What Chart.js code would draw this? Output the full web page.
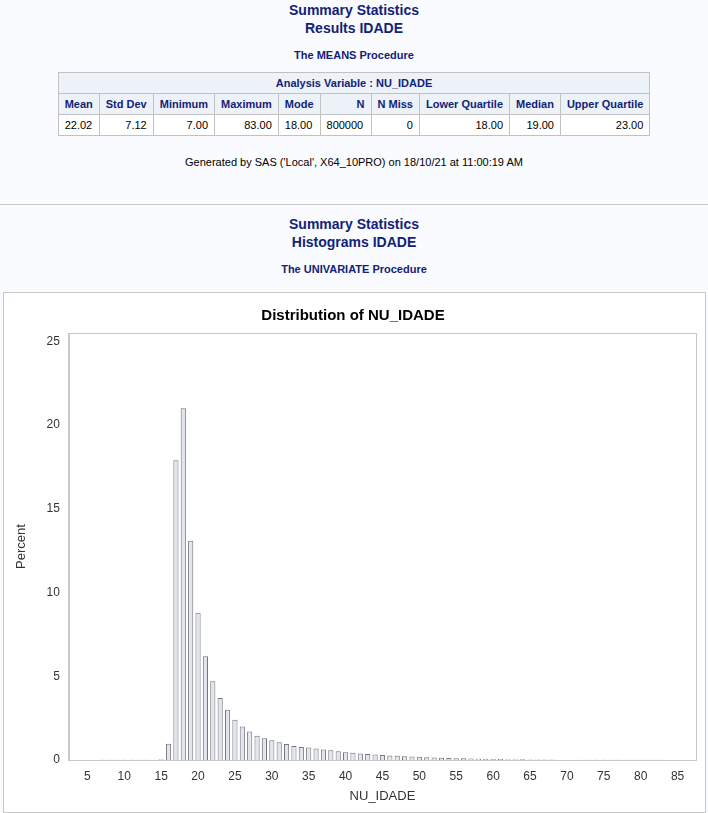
<!DOCTYPE html>
<html>
<head>
<meta charset="utf-8">
<script src="https://cdn.jsdelivr.net/npm/chart.js@4"></script>
<style>
  body { margin: 0; background: #fafbfe; font-family: "Liberation Sans", Arial, sans-serif; color: #112277; width: 708px; height: 813px; overflow: hidden; }
  .t { text-align: center; font-weight: bold; }
  .t1 { font-size: 14px; line-height: 18px; }
  .proc { font-size: 11px; margin-top: 12px; }
  table { border-collapse: collapse; margin: 11px auto 0 auto; font-size: 11px; background: #fff; }
  td, th { border: 1px solid #c1c1c1; padding: 4px 6px; height: 12px; }
  th { background: #edf2f9; font-weight: bold; color: #112277; }
  td { text-align: right; color: #000; }
  .gen { text-align: center; font-size: 11px; margin-top: 20px; color: #000; }
  hr { border: 0; border-top: 1px solid #c8c8c8; margin: 36px 0 0 0; }
  #box { position: absolute; left: 3px; top: 292px; width: 703px; height: 521px; background: #fff; border: 1px solid #c8c8c8; box-sizing: border-box; }
</style>
</head>
<body>
<div class="t t1" style="margin-top:1px">Summary Statistics<br>Results IDADE</div>
<div class="t proc">The MEANS Procedure</div>
<table>
  <tr><th colspan="10">Analysis Variable : NU_IDADE</th></tr>
  <tr><th>Mean</th><th>Std Dev</th><th>Minimum</th><th>Maximum</th><th>Mode</th><th style="text-align:right;width:38px">N</th><th>N Miss</th><th>Lower Quartile</th><th>Median</th><th>Upper Quartile</th></tr>
  <tr><td style="text-align:left">22.02</td><td>7.12</td><td>7.00</td><td>83.00</td><td style="text-align:left">18.00</td><td style="text-align:left">800000</td><td>0</td><td>18.00</td><td>19.00</td><td>23.00</td></tr>
</table>
<div class="gen">Generated by SAS ('Local', X64_10PRO) on 18/10/21 at 11:00:19 AM</div>
<hr>
<div class="t t1" style="margin-top:10px">Summary Statistics<br>Histograms IDADE</div>
<div class="t proc">The UNIVARIATE Procedure</div>
<div id="box"><canvas id="hist"></canvas></div>
<script>
const ages = [7,8,9,10,11,12,13,14,15,16,17,18,19,20,21,22,23,24,25,26,27,28,29,30,31,32,33,34,35,36,37,38,39,40,41,42,43,44,45,46,47,48,49,50,51,52,53,54,55,56,57,58,59,60,61,62,63,64,65,66,67,68,69,70,71,72,73,74,75,76,77,78,79,80,81,82,83];
const percents = [0.01,0.01,0.01,0.01,0.01,0.01,0.01,0.02,0.05,0.97,17.9,21.0,13.1,8.8,6.2,4.7,3.7,3.0,2.4,2.0,1.7,1.45,1.3,1.18,1.06,0.96,0.84,0.78,0.74,0.68,0.63,0.58,0.52,0.47,0.43,0.39,0.36,0.33,0.30,0.27,0.25,0.23,0.21,0.19,0.17,0.15,0.14,0.12,0.11,0.10,0.09,0.08,0.07,0.06,0.055,0.05,0.045,0.04,0.035,0.03,0.027,0.024,0.021,0.019,0.017,0.015,0.013,0.012,0.011,0.01,0.01,0.01,0.01,0.01,0.01,0.01,0.01];
const xTicks = [5,10,15,20,25,30,35,40,45,50,55,60,65,70,75,80,85];
const yTicks = [0,5,10,15,20,25];

const frame = {
  id: 'frame',
  afterDraw(chart) {
    const a = chart.chartArea, c = chart.ctx;
    c.save();
    c.strokeStyle = '#c8c8c8';
    c.lineWidth = 1;
    c.strokeRect(a.left + 0.5, a.top + 0.5, a.right - a.left, a.bottom - a.top);
    c.restore();
  }
};

new Chart(document.getElementById('hist'), {
  type: 'bar',
  data: {
    datasets: [{
      data: ages.map((a, i) => ({ x: a, y: percents[i] })),
      backgroundColor: '#e1e5ef',
      borderColor: '#73767c',
      borderWidth: 1,
      barPercentage: 0.7,
      categoryPercentage: 1
    }]
  },
  options: {
    responsive: true,
    maintainAspectRatio: false,
    animation: false,
    layout: { padding: { left: 6, right: 9, top: 4, bottom: 4 } },
    plugins: {
      legend: { display: false },
      tooltip: { enabled: false },
      title: { display: true, text: 'Distribution of NU_IDADE', color: '#000', font: { family: 'Liberation Sans', size: 15, weight: 'bold' }, padding: { top: 10, bottom: 8 } }
    },
    scales: {
      x: {
        type: 'linear', min: 5, max: 85,
        afterBuildTicks: s => { s.ticks = xTicks.map(v => ({ value: v })); },
        grid: { display: false, drawTicks: true, tickLength: 6, color: '#888' },
        border: { color: '#c8c8c8' },
        ticks: { color: '#333', font: { family: 'Liberation Sans', size: 12 }, maxRotation: 0, autoSkip: false },
        title: { display: true, text: 'NU_IDADE', color: '#333', font: { family: 'Liberation Sans', size: 13 }, padding: { top: 2 } }
      },
      y: {
        min: 0, max: 25.5,
        afterBuildTicks: s => { s.ticks = yTicks.map(v => ({ value: v })); },
        grid: { display: false, drawTicks: true, tickLength: 6 },
        border: { color: '#c8c8c8' },
        ticks: { color: '#333', font: { family: 'Liberation Sans', size: 12 } },
        title: { display: true, text: 'Percent', color: '#333', font: { family: 'Liberation Sans', size: 13 }, padding: { bottom: 14 } }
      }
    }
  },
  plugins: [frame]
});
</script>
</body>
</html>
